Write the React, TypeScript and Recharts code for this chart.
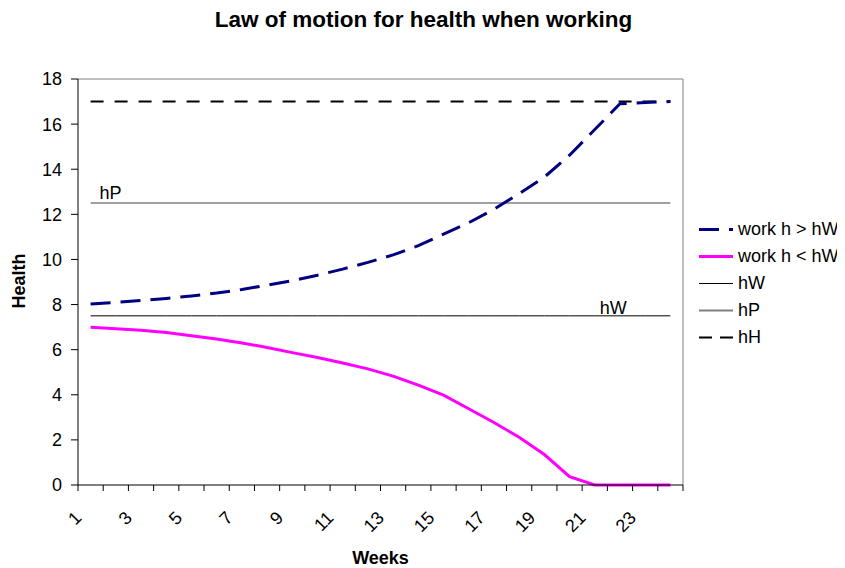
import React from "react";
import {
  LineChart,
  Line,
  XAxis,
  YAxis,
  Legend,
  Label,
  LabelList,
  ReferenceLine,
} from "recharts";

const WEEKS = [1, 2, 3, 4, 5, 6, 7, 8, 9, 10, 11, 12, 13, 14, 15, 16, 17, 18, 19, 20, 21, 22, 23, 24];
const WORK_ABOVE = [8.02, 8.1, 8.18, 8.27, 8.38, 8.51, 8.67, 8.86, 9.06, 9.3, 9.57, 9.87, 10.2, 10.61, 11.12, 11.63, 12.22, 12.92, 13.65, 14.62, 15.76, 16.9, 16.96, 17.0];
const WORK_BELOW = [6.99, 6.93, 6.86, 6.76, 6.62, 6.47, 6.3, 6.1, 5.87, 5.65, 5.41, 5.15, 4.83, 4.43, 3.98, 3.38, 2.77, 2.12, 1.35, 0.37, 0, 0, 0, 0];
const H_W = [7.5, 7.5, 7.5, 7.5, 7.5, 7.5, 7.5, 7.5, 7.5, 7.5, 7.5, 7.5, 7.5, 7.5, 7.5, 7.5, 7.5, 7.5, 7.5, 7.5, 7.5, 7.5, 7.5, 7.5];
const H_P = [12.5, 12.5, 12.5, 12.5, 12.5, 12.5, 12.5, 12.5, 12.5, 12.5, 12.5, 12.5, 12.5, 12.5, 12.5, 12.5, 12.5, 12.5, 12.5, 12.5, 12.5, 12.5, 12.5, 12.5];
const H_H = [17, 17, 17, 17, 17, 17, 17, 17, 17, 17, 17, 17, 17, 17, 17, 17, 17, 17, 17, 17, 17, 17, 17, 17];
const X_LABEL_TICKS = [1, 3, 5, 7, 9, 11, 13, 15, 17, 19, 21, 23];
const Y_TICKS = [0, 2, 4, 6, 8, 10, 12, 14, 16, 18];
const SERIES_NAMES = ["work h > hW", "work h < hW", "hW", "hP", "hH"];
const TITLE = "Law of motion for health when working";

const FONT = "'Liberation Sans', Arial, sans-serif";

const data = WEEKS.map((w, i) => ({
  week: w,
  above: WORK_ABOVE[i],
  below: WORK_BELOW[i],
  hW: H_W[i],
  hP: H_P[i],
  hH: H_H[i],
}));

const boundaries = [WEEKS[0] - 0.5, ...WEEKS.map((w) => w + 0.5)];
const xTicks = [...boundaries, ...X_LABEL_TICKS].sort((a, b) => a - b);

const XTick = (props: any) => {
  const { x, y, payload } = props;
  const v = payload.value;
  if (!Number.isInteger(v)) {
    return <line x1={x} y1={y} x2={x} y2={y + 6} stroke="#000" strokeWidth={1} />;
  }
  const tx = x - 8;
  const ty = y + 34;
  return (
    <text
      x={tx}
      y={ty}
      transform={`rotate(-45, ${tx}, ${ty})`}
      textAnchor="end"
      fontSize={18}
      fontFamily={FONT}
      fill="#000"
    >
      {v}
    </text>
  );
};

const makeLineLabel = (text: string, idx: number, dx: number, dy: number) => (p: any) => {
  if (p.index !== idx) return null;
  const vb = p.viewBox || {};
  const x = typeof p.x === "number" ? p.x : vb.x;
  const y = typeof p.y === "number" ? p.y : vb.y;
  return (
    <text x={x + dx} y={y + dy} fontSize={18} fontFamily={FONT} fill="#000" textAnchor="start">
      {text}
    </text>
  );
};

const LEGEND_STYLES = [
  { stroke: "#000080", width: 3, dash: "20 10" },
  { stroke: "#FF00FF", width: 3, dash: undefined },
  { stroke: "#000000", width: 1, dash: undefined },
  { stroke: "#808080", width: 2, dash: undefined },
  { stroke: "#000000", width: 2, dash: "13 8" },
];

const LegendContent = () => (
  <div style={{ paddingLeft: 16, fontFamily: FONT, fontSize: 18, color: "#000" }}>
    {SERIES_NAMES.map((name, i) => {
      const s = LEGEND_STYLES[i];
      return (
        <div key={name} style={{ display: "flex", alignItems: "center", height: 27 }}>
          <svg width={34} height={27} style={{ display: "block" }}>
            <line
              x1={0}
              y1={13.5}
              x2={34}
              y2={13.5}
              stroke={s.stroke}
              strokeWidth={s.width}
              strokeDasharray={s.dash}
            />
          </svg>
          <span style={{ marginLeft: 5, whiteSpace: "nowrap" }}>{name}</span>
        </div>
      );
    })}
  </div>
);

export default function App() {
  return (
    <div style={{ position: "relative", width: 837, height: 560 }}>
      <LineChart
        width={837}
        height={560}
        data={data}
        margin={{ top: 71, right: 5, bottom: 0, left: 0 }}
      >
        <XAxis
          dataKey="week"
          type="number"
          domain={[0.5, 24.5]}
          ticks={xTicks}
          interval={0}
          height={83}
          stroke="#000"
          tickLine={false}
          tickSize={0}
          tickMargin={0}
          tick={<XTick />}
        >
          <Label
            content={(p: any) => {
              const vb = p.viewBox;
              return (
                <text
                  x={vb.x + vb.width / 2}
                  y={vb.y + 79.3}
                  textAnchor="middle"
                  fontSize={18}
                  fontWeight="bold"
                  fontFamily={FONT}
                  fill="#000"
                >
                  Weeks
                </text>
              );
            }}
          />
        </XAxis>
        <YAxis
          type="number"
          domain={[0, 18]}
          ticks={Y_TICKS}
          width={70}
          stroke="#000"
          tickSize={7}
          tickMargin={9}
          interval={0}
          tick={{ fontSize: 18, fill: "#000", fontFamily: FONT }}
        >
          <Label
            content={(p: any) => {
              const vb = p.viewBox;
              const x = vb.x + 17;
              const y = vb.y + vb.height / 2 - 1;
              return (
                <text
                  x={x}
                  y={y}
                  transform={`rotate(-90, ${x}, ${y})`}
                  textAnchor="middle"
                  fontSize={18}
                  fontWeight="bold"
                  fontFamily={FONT}
                  fill="#000"
                >
                  Health
                </text>
              );
            }}
          />
        </YAxis>
        <ReferenceLine y={18} stroke="#808080" strokeWidth={1} />
        <ReferenceLine x={24.5} stroke="#808080" strokeWidth={1} />
        <Legend
          layout="vertical"
          align="right"
          verticalAlign="middle"
          width={157}
          wrapperStyle={{ top: 208 }}
          content={<LegendContent />}
        />
        <Line
          type="linear"
          dataKey="hW"
          name="hW"
          stroke="#000000"
          strokeWidth={1}
          dot={false}
          activeDot={false}
          isAnimationActive={false}
        >
          <LabelList dataKey="hW" content={makeLineLabel("hW", 20, 5, -2)} />
        </Line>
        <Line
          type="linear"
          dataKey="hP"
          name="hP"
          stroke="#808080"
          strokeWidth={1.5}
          dot={false}
          activeDot={false}
          isAnimationActive={false}
        >
          <LabelList dataKey="hP" content={makeLineLabel("hP", 0, 9, -4)} />
        </Line>
        <Line
          type="linear"
          dataKey="hH"
          name="hH"
          stroke="#000000"
          strokeWidth={2}
          strokeDasharray="13 11"
          dot={false}
          activeDot={false}
          isAnimationActive={false}
        />
        <Line
          type="linear"
          dataKey="below"
          name="work h < hW"
          stroke="#FF00FF"
          strokeWidth={3}
          dot={false}
          activeDot={false}
          isAnimationActive={false}
        />
        <Line
          type="linear"
          dataKey="above"
          name="work h > hW"
          stroke="#000080"
          strokeWidth={3}
          strokeDasharray="20 10"
          dot={false}
          activeDot={false}
          isAnimationActive={false}
        />
      </LineChart>
      <div
        style={{
          position: "absolute",
          left: 0,
          top: 1.3,
          width: 831,
          textAlign: "center",
          fontFamily: FONT,
          fontWeight: "bold",
          fontSize: 22.5,
          lineHeight: "22.5px",
          color: "#000",
          whiteSpace: "nowrap",
        }}
      >
        {TITLE}
      </div>
    </div>
  );
}
